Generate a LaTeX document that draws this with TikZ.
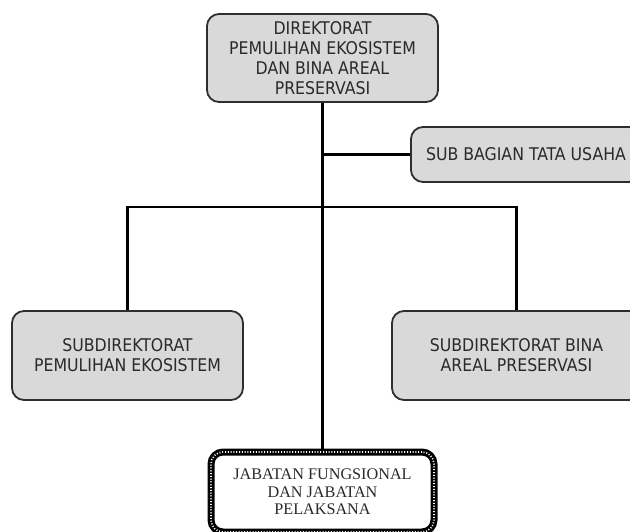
\documentclass[tikz,border=0pt]{standalone}
\usepackage{fontspec}
\setsansfont{DejaVu Sans Condensed}
\newfontfamily\jabfont{Liberation Serif}
\definecolor{boxfill}{HTML}{D9D9D9}
\definecolor{boxline}{HTML}{2E2E2E}
\definecolor{textgray}{HTML}{2A2A2A}
\begin{document}
\begin{tikzpicture}[x=1pt, y=-1pt,
    unitbox/.style={draw=boxline, line width=1.8pt, fill=boxfill, rounded corners=12pt,
      align=center, text=textgray, inner sep=0pt,
      font=\sffamily\fontsize{17.5}{20}\selectfont},
    fungbox/.style={draw=black, line width=7pt, fill=white, rounded corners=12pt,
      align=center, text=textgray, inner sep=0pt,
      font=\jabfont\fontsize{16.2}{17.5}\selectfont,
      postaction={draw=white, line width=1.6pt, dash pattern=on 1pt off 1.8pt}},
    link/.style={line width=2.8pt}]
    \useasboundingbox (0,0) rectangle (630,531);
    \node[unitbox, minimum width=231pt, minimum height=88pt] (dir) at (322.5,58)
      {DIREKTORAT\\PEMULIHAN EKOSISTEM\\DAN BINA AREAL\\PRESERVASI};
    \node[unitbox, minimum width=230pt, minimum height=55pt] (tu) at (526,154.5)
      {SUB BAGIAN TATA USAHA};
    \node[unitbox, minimum width=231pt, minimum height=89pt] (pe) at (127.5,355.5)
      {SUBDIREKTORAT\\PEMULIHAN EKOSISTEM};
    \node[unitbox, minimum width=249pt, minimum height=89pt] (bap) at (516.5,355.5)
      {SUBDIREKTORAT BINA\\AREAL PRESERVASI};
    \node[fungbox, minimum width=223pt, minimum height=80pt] (jf) at (322.5,492)
      {JABATAN FUNGSIONAL\\DAN JABATAN\\PELAKSANA};
    \coordinate (cabang) at (322.5,207);
    \draw[link] (dir.south) -- (jf.north);
    \draw[link] (dir.south |- tu.west) -- (tu.west);
    \draw[link] (pe.north) |- (cabang) -| (bap.north);
  \end{tikzpicture}
\end{document}
